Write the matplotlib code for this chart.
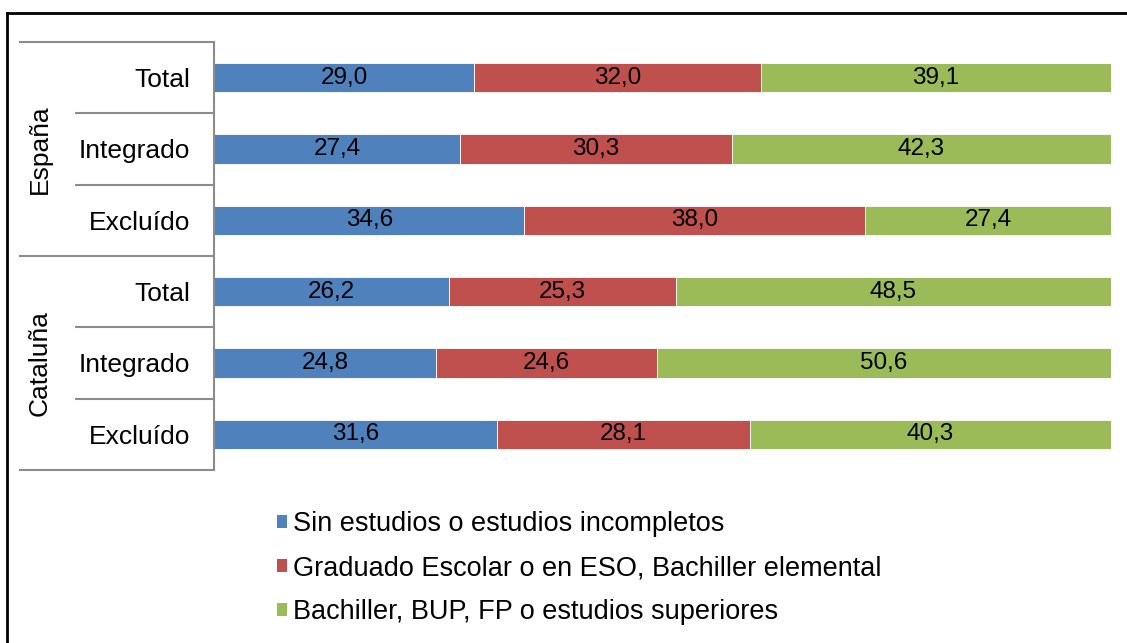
import matplotlib.pyplot as plt
from matplotlib.patches import Patch
from matplotlib.lines import Line2D
import matplotlib.transforms as mtransforms

plt.rcParams['font.family'] = ['Liberation Sans', 'DejaVu Sans']

# datos
filas = ['Total', 'Integrado', 'Excluído', 'Total', 'Integrado', 'Excluído']
grupos = ['España', 'Cataluña']
sin_estudios = [29.0, 27.4, 34.6, 26.2, 24.8, 31.6]
graduado = [32.0, 30.3, 38.0, 25.3, 24.6, 28.1]
bachiller = [39.1, 42.3, 27.4, 48.5, 50.6, 40.3]
series = ['Sin estudios o estudios incompletos',
          'Graduado Escolar o en ESO, Bachiller elemental',
          'Bachiller, BUP, FP o estudios superiores']
colores = ['#4F81BD', '#C0504D', '#9BBB59']

W, H = 1127, 643
fig = plt.figure(figsize=(W / 100, H / 100), dpi=100)
ax = fig.add_axes([214 / W, 1 - 470 / H, (1111 - 214) / W, (470 - 42) / H])

y = list(range(len(filas)))
valores = [sin_estudios, graduado, bachiller]
# barras al 100 %
totales = [a + b + c for a, b, c in zip(*valores)]
izq = [0] * len(filas)
for vals, col, nom in zip(valores, colores, series):
    anchos = [v / t * 100 for v, t in zip(vals, totales)]
    bars = ax.barh(y, anchos, left=izq, height=0.41, color=col,
                   edgecolor='white', linewidth=0.6, label=nom)
    ax.bar_label(bars, labels=[f'{v:.1f}'.replace('.', ',') for v in vals],
                 label_type='center', fontsize=17.5, color='black')
    izq = [i + a for i, a in zip(izq, anchos)]

ax.set_xlim(0, 100)
ax.set_ylim(len(filas) - 0.5, -0.5)
ax.set_xticks([])
ax.set_yticks(y)
ax.set_yticklabels(filas, fontsize=19)
ax.tick_params(axis='y', length=0, pad=17)
for s in ['top', 'right', 'bottom']:
    ax.spines[s].set_visible(False)
ax.spines['left'].set_color('#8C8C8C')
ax.spines['left'].set_linewidth(1.5)

# separadores de categorias
tr = mtransforms.blended_transform_factory(ax.transAxes, ax.transData)
for k in range(len(filas) + 1):
    yy = k - 0.5
    x0 = (20 - 214) / 897 if k % 3 == 0 else (76 - 214) / 897
    ax.add_line(Line2D([x0, 0], [yy, yy], transform=tr, color='#8C8C8C',
                       linewidth=1.5, clip_on=False))
for g, nom in enumerate(grupos):
    ax.text((40 - 214) / 897, g * 3 + 1, nom, transform=tr, rotation=90,
            ha='center', va='center', fontsize=19)

# leyenda
handles = [Patch(facecolor=c, label=n) for c, n in zip(colores, series)]
fig.legend(handles=handles, loc='upper left', bbox_to_anchor=(253 / W, 1 - 487 / H),
           frameon=False, fontsize=19.5, handlelength=0.37, handleheight=0.37,
           handletextpad=0.2, labelspacing=0.66)

# borde
fig.add_artist(Line2D([6.5 / W, 6.5 / W], [0, 1 - 12.5 / H], color='black', linewidth=2))
fig.add_artist(Line2D([6.5 / W, 1], [1 - 12.5 / H, 1 - 12.5 / H], color='black', linewidth=2))

fig.savefig('out.png', dpi=100)
